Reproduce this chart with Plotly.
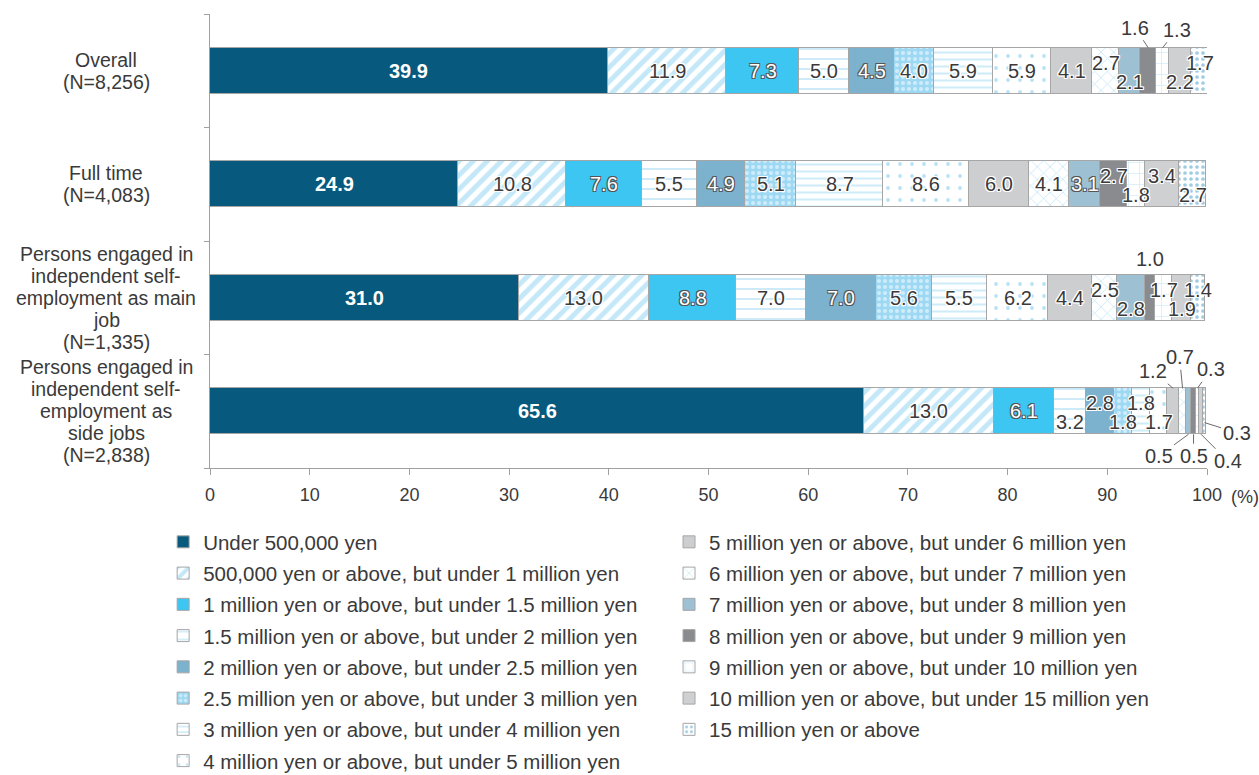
import plotly.graph_objects as go

# Respondent groups (top to bottom) and their label lines
groups = ["Overall", "Full time", "Main job", "Side jobs"]
group_label_lines = [
    ["Overall", "(N=8,256)"],
    ["Full time", "(N=4,083)"],
    ["Persons engaged in", "independent self-", "employment as main", "job", "(N=1,335)"],
    ["Persons engaged in", "independent self-", "employment as", "side jobs", "(N=2,838)"],
]

# Income brackets (stack order, left to right)
brackets = [
    "Under 500,000 yen",
    "500,000 yen or above, but under 1 million yen",
    "1 million yen or above, but under 1.5 million yen",
    "1.5 million yen or above, but under 2 million yen",
    "2 million yen or above, but under 2.5 million yen",
    "2.5 million yen or above, but under 3 million yen",
    "3 million yen or above, but under 4 million yen",
    "4 million yen or above, but under 5 million yen",
    "5 million yen or above, but under 6 million yen",
    "6 million yen or above, but under 7 million yen",
    "7 million yen or above, but under 8 million yen",
    "8 million yen or above, but under 9 million yen",
    "9 million yen or above, but under 10 million yen",
    "10 million yen or above, but under 15 million yen",
    "15 million yen or above",
]

# Shares (%) per group, one value per bracket
overall = [39.9, 11.9, 7.3, 5.0, 4.5, 4.0, 5.9, 5.9, 4.1, 2.7, 2.1, 1.6, 1.3, 2.2, 1.7]
full_time = [24.9, 10.8, 7.6, 5.5, 4.9, 5.1, 8.7, 8.6, 6.0, 4.1, 3.1, 2.7, 1.8, 3.4, 2.7]
main_job = [31.0, 13.0, 8.8, 7.0, 7.0, 5.6, 5.5, 6.2, 4.4, 2.5, 2.8, 1.0, 1.7, 1.9, 1.4]
side_jobs = [65.6, 13.0, 6.1, 3.2, 2.8, 1.8, 1.8, 1.7, 1.2, 0.7, 0.5, 0.5, 0.3, 0.4, 0.3]
shares = [overall, full_time, main_job, side_jobs]

x_ticks = [0, 10, 20, 30, 40, 50, 60, 70, 80, 90, 100]

# ---- styling -------------------------------------------------------------
FONT = "Liberation Sans"
TXT = "#3a3a3a"
EDGE = "#a6a6a6"

styles = [
    dict(color="#07597d"),
    dict(color="#ffffff", pattern=dict(shape="/", fgcolor="#8ad1f2", bgcolor="#ffffff", size=10, solidity=0.5)),
    dict(color="#3ec6f2"),
    dict(color="#ffffff", pattern=dict(shape="-", fgcolor="#9ad6f2", bgcolor="#ffffff", size=10, solidity=0.2)),
    dict(color="#7db2cf"),
    dict(color="#ffffff", pattern=dict(shape=".", fgcolor="#ffffff", bgcolor="#9ed9f4", size=6, solidity=0.35)),
    dict(color="#ffffff", pattern=dict(shape="-", fgcolor="#9fd8f2", bgcolor="#ffffff", size=7, solidity=0.3)),
    dict(color="#ffffff", pattern=dict(shape=".", fgcolor="#74c3ea", bgcolor="#ffffff", size=12, solidity=0.08)),
    dict(color="#cdced0"),
    dict(color="#ffffff", pattern=dict(shape="x", fgcolor="#8fd0f0", bgcolor="#ffffff", size=9, solidity=0.18)),
    dict(color="#9dc0d3"),
    dict(color="#8a8b8e"),
    dict(color="#ffffff", pattern=dict(shape="+", fgcolor="#9fd6f2", bgcolor="#ffffff", size=11, solidity=0.12)),
    dict(color="#cfd0d2"),
    dict(color="#ffffff", pattern=dict(shape=".", fgcolor="#3f97c8", bgcolor="#ffffff", size=6, solidity=0.3)),
]

# Label placement per group: "c" centred, "u"/"d" nudged up/down inside the bar,
# ("out", ax, ay, anchor) for leader-line callouts, ("above", dy) for plain text above
placement = [
    ["c"] * 9 + ["u", "d", ("out", -13, -20, "top"), ("out", 14, -18, "top"), "d", "u"],
    ["c"] * 11 + ["u", "d", "u", "d"],
    ["c"] * 9 + ["u", "d", ("above", 39), "u", "d", "u"],
    ["c"] * 3 + ["d", "u", "d", "u", "d",
                 ("out", -20, -17, "top"), ("out", -3, -31, "top"),
                 ("out", -30, 22, "bottom"), ("out", 0, 22, "bottom"),
                 ("out", 13, -19, "top"),
                 ("out", 27, 27, "bottom"), ("out", 32, 10, "mid")],
]
light_on_dark = {2, 4, 10}
BAR_W = 0.405

HALO = ("1px 1px 0 #fff, -1px -1px 0 #fff, 1px -1px 0 #fff, -1px 1px 0 #fff, "
        "0 1px 0 #fff, 0 -1px 0 #fff, 1px 0 0 #fff, -1px 0 0 #fff")
DARK_HALO = "1px 1px 0 #555, -1px -1px 0 #555, 1px -1px 0 #555, -1px 1px 0 #555"

fig = go.Figure()
for k, name in enumerate(brackets):
    st = styles[k]
    marker = dict(color=st["color"], line=dict(color=EDGE, width=1))
    if "pattern" in st:
        marker["pattern"] = st["pattern"]
    fig.add_trace(go.Bar(
        y=list(range(len(groups))),
        x=[row[k] for row in shares],
        orientation="h",
        name=name,
        width=BAR_W,
        marker=marker,
        legend="legend" if k < 8 else "legend2",
        legendgroup=f"b{k}",
        hoverinfo="x+name",
    ))

annotations = []
for g, row in enumerate(shares):
    start = 0.0
    for k, v in enumerate(row):
        xc = start + v / 2
        start += v
        txt = f"{v:.1f}"
        spec = placement[g][k]
        font = dict(family=FONT, size=20, color=TXT, shadow=HALO)
        if k == 0:
            font = dict(family=FONT, size=20, color="#ffffff", weight="bold")
        elif spec == "c" and k in light_on_dark:
            font = dict(family=FONT, size=20, color="#ffffff", shadow=DARK_HALO)
        base = dict(x=xc, y=g, xref="x", yref="y", text=txt, font=font, showarrow=False)
        if spec == "c":
            annotations.append(base)
        elif spec == "u":
            annotations.append({**base, "yshift": 8})
        elif spec == "d":
            annotations.append({**base, "yshift": -11})
        elif spec[0] == "above":
            annotations.append({**base, "yshift": spec[1]})
        else:
            _, ax, ay, anchor = spec
            yy = {"top": g - BAR_W / 2, "bottom": g + BAR_W / 2, "mid": g + 0.1}[anchor]
            annotations.append({**base, "y": yy, "showarrow": True, "arrowhead": 0,
                                "arrowwidth": 1, "arrowcolor": "#6b6b6b",
                                "ax": ax, "ay": ay, "standoff": 0})

# Group names left of the axis, one annotation per line for tight spacing
LINE_H = 22
for g, lines in enumerate(group_label_lines):
    n = len(lines)
    for i, line in enumerate(lines):
        annotations.append(dict(
            x=0, xref="paper", xanchor="center", xshift=-104,
            y=g, yref="y", yanchor="middle",
            yshift=-(i - (n - 1) / 2) * LINE_H,
            text=line, showarrow=False,
            font=dict(family=FONT, size=19.5, color=TXT),
        ))

# Unit label after the last tick
annotations.append(dict(x=1, xref="paper", xanchor="left", xshift=22,
                        y=0, yref="paper", yanchor="middle", yshift=-29,
                        text="(%)", showarrow=False,
                        font=dict(family=FONT, size=18, color=TXT)))

legend_common = dict(
    font=dict(family=FONT, size=20.5, color=TXT),
    traceorder="grouped", tracegroupgap=1.6,
    bgcolor="rgba(0,0,0,0)", yanchor="top", xanchor="left",
    itemclick=False, itemdoubleclick=False,
)

fig.update_layout(
    barmode="stack",
    width=1259, height=775,
    margin=dict(l=210, r=52, t=14, b=307, autoexpand=False),
    paper_bgcolor="#ffffff", plot_bgcolor="#ffffff",
    font=dict(family=FONT, color=TXT),
    bargap=0,
    annotations=annotations,
    legend=dict(x=-0.047, y=-0.119, **legend_common),
    legend2=dict(x=0.4604, y=-0.119, **legend_common),
    xaxis=dict(range=[0, 100], tickvals=x_ticks, ticks="outside", ticklen=6,
               tickcolor="#a0a0a0", showline=True, linecolor="#a0a0a0", linewidth=1,
               showgrid=False, zeroline=False, ticklabelstandoff=4,
               tickfont=dict(family=FONT, size=18, color=TXT)),
    yaxis=dict(range=[3.5, -0.5], tickvals=[-0.5, 0.5, 1.5, 2.5, 3.5],
               showticklabels=False, ticks="outside", ticklen=5, tickcolor="#a0a0a0",
               showline=True, linecolor="#a0a0a0", linewidth=1,
               showgrid=False, zeroline=False),
)

fig.write_html("out.html")
